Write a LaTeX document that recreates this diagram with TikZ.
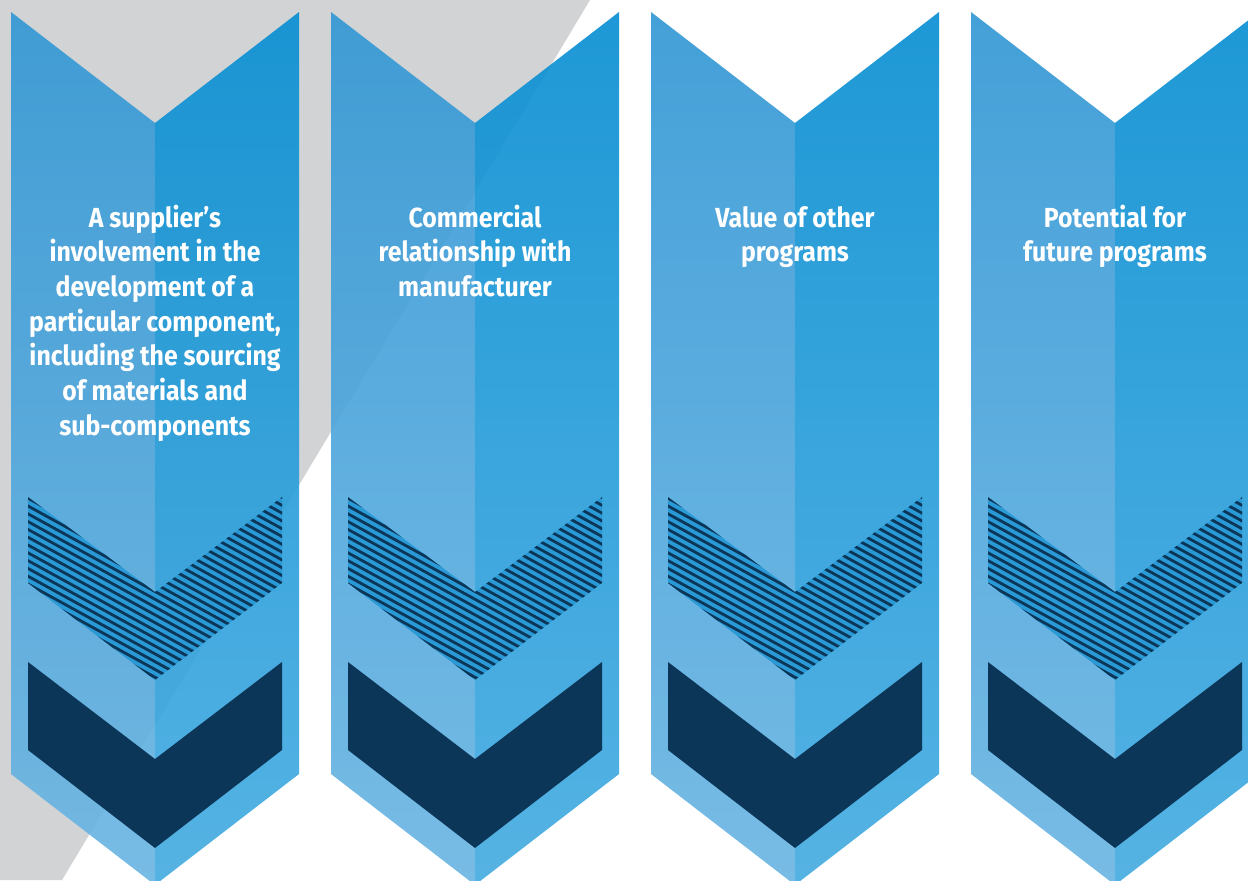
\documentclass[tikz,border=0pt]{standalone}
\usepackage{fontspec}
\setsansfont{Fira Sans}[FakeStretch=0.9]
\usetikzlibrary{positioning}
\definecolor{bggray}{HTML}{D1D3D4}
\definecolor{lefttop}{HTML}{3498D5}
\definecolor{leftmid}{HTML}{3F9DD7}
\definecolor{leftbot}{HTML}{6CB6E3}
\definecolor{righttop}{HTML}{0A8FD2}
\definecolor{rightmid}{HTML}{1592D4}
\definecolor{rightbot}{HTML}{47ACE1}
\definecolor{navy}{HTML}{0C3658}
\definecolor{hatchblue}{HTML}{2A9AD7}

\begin{document}
\begin{tikzpicture}[x=.5pt,y=-.5pt,
  captxt/.style={text=white,font=\sffamily\bfseries\fontsize{13.8}{17.35}\selectfont,align=center,anchor=base},
  lefthalf/.style={top color=lefttop,middle color=leftmid,bottom color=leftbot,opacity=.92},
  righthalf/.style={top color=righttop,middle color=rightmid,bottom color=rightbot,opacity=.92},
  stripe/.style={navy,line width=1.4pt}]
\useasboundingbox (0,0) rectangle (1248,880);
\clip (0,0) rectangle (1248,880);
\fill[bggray] (0,0)--(590,0)--(62,880)--(0,880)--cycle;
\foreach \n/\m/\txt in {0/7/{A supplier’s\\involvement in the\\development of a\\particular component,\\including the sourcing\\of materials and\\sub-components},
  1/3/{Commercial\\relationship with\\manufacturer},
  2/2/{Value of other\\programs},
  3/2/{Potential for\\future programs}}{
\begin{scope}[xshift=\n*160pt]
\shade[lefthalf] (11,12)--(155,123)--(155,885)--(11,774)--cycle;
\shade[righthalf] (155,123)--(299,12)--(299,774)--(155,885)--cycle;
% hatched chevron
\fill[hatchblue] (28,497)--(155,592)--(282,497)--(282,583)--(155,680)--(28,583)--cycle;
\begin{scope}
\clip (28,497)--(155,592)--(282,497)--(282,583)--(155,680)--(28,583)--cycle;
\foreach \k in {0,...,38} \draw[stripe] (20,330+\k*7.8)--++(280,154);
\end{scope}
\fill[navy] (28,662)--(155,759)--(282,662)--(282,750)--(155,848)--(28,750)--cycle;
\node[captxt] (t\n) at (155,{227+(\m-1)*34.7}) {\txt};
\end{scope}
}
\end{tikzpicture}
\end{document}
